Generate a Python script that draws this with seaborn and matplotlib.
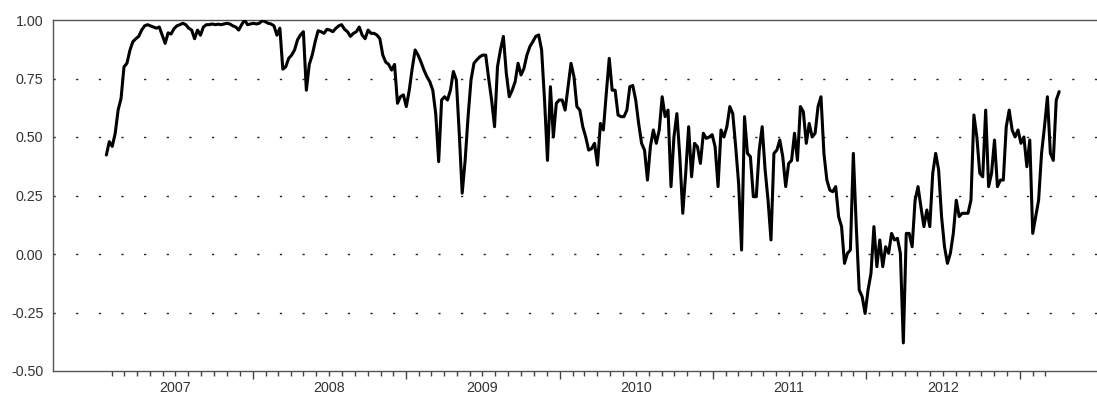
import numpy as np
import pandas as pd
import matplotlib
matplotlib.use("Agg")
import matplotlib.pyplot as plt
import matplotlib.dates as mdates
from matplotlib.ticker import FuncFormatter, FixedLocator
import seaborn as sns

# Weekly rolling correlation, starting mid-January 2007
start_date = "2007-01-18"
corr_2007 = [
    0.423, 0.48, 0.46, 0.515, 0.615, 0.665, 0.80, 0.815, 0.87, 0.907,
    0.92, 0.93, 0.957, 0.975, 0.98, 0.975, 0.97, 0.965, 0.97, 0.935,
    0.90, 0.945, 0.94, 0.963, 0.975, 0.98, 0.986, 0.98, 0.965, 0.957,
    0.92, 0.957, 0.935, 0.97, 0.98, 0.98, 0.983, 0.98, 0.982, 0.98,
    0.983, 0.986, 0.983, 0.975, 0.97, 0.957, 0.98, 1.0, 0.98, 0.983,
]
corr_2008 = [
    0.986, 0.983, 0.986, 0.997, 0.993, 0.986, 0.983, 0.975, 0.935, 0.965,
    0.79, 0.80, 0.836, 0.85, 0.872, 0.915, 0.936, 0.95, 0.70, 0.81,
    0.85, 0.907, 0.954, 0.95, 0.943, 0.96, 0.957, 0.95, 0.964, 0.975,
    0.98, 0.96, 0.95, 0.93, 0.943, 0.95, 0.97, 0.935, 0.92, 0.957,
    0.943, 0.943, 0.936, 0.92, 0.85, 0.82, 0.81, 0.786, 0.81, 0.644,
]
corr_2009 = [
    0.672, 0.68, 0.63, 0.70, 0.793, 0.872, 0.85, 0.82, 0.786, 0.758,
    0.736, 0.70, 0.60, 0.395, 0.658, 0.672, 0.658, 0.70, 0.78, 0.744,
    0.516, 0.26, 0.40, 0.587, 0.744, 0.815, 0.83, 0.843, 0.85, 0.85,
    0.75, 0.658, 0.544, 0.80, 0.872, 0.93, 0.772, 0.672, 0.70, 0.736,
    0.815, 0.765, 0.793, 0.85, 0.886, 0.907, 0.93, 0.936, 0.872, 0.658,
]
corr_2010 = [
    0.40, 0.715, 0.50, 0.644, 0.658, 0.658, 0.615, 0.715, 0.815, 0.758,
    0.63, 0.615, 0.544, 0.50, 0.444, 0.45, 0.473, 0.38, 0.558, 0.53,
    0.687, 0.836, 0.70, 0.70, 0.594, 0.587, 0.587, 0.615, 0.715, 0.72,
    0.658, 0.558, 0.473, 0.444, 0.316, 0.46, 0.53, 0.473, 0.53, 0.672,
    0.587, 0.615, 0.288, 0.50, 0.60, 0.416, 0.174, 0.345, 0.544, 0.33,
]
corr_2011 = [
    0.473, 0.458, 0.387, 0.516, 0.494, 0.50, 0.51, 0.458, 0.288, 0.53,
    0.50, 0.544, 0.63, 0.60, 0.458, 0.30, 0.017, 0.587, 0.43, 0.416,
    0.245, 0.245, 0.444, 0.544, 0.36, 0.23, 0.06, 0.43, 0.444, 0.487,
    0.416, 0.288, 0.387, 0.40, 0.516, 0.40, 0.63, 0.608, 0.473, 0.558,
    0.50, 0.516, 0.63, 0.672, 0.43, 0.316, 0.273, 0.266, 0.288, 0.16,
]
corr_2012 = [
    0.117, -0.04, 0.003, 0.017, 0.43, 0.117, -0.154, -0.182, -0.254, -0.154,
    -0.083, 0.117, -0.054, 0.06, -0.054, 0.031, 0.003, 0.088, 0.06, 0.067,
    0.003, -0.38, 0.088, 0.088, 0.031, 0.23, 0.288, 0.20, 0.117, 0.188,
    0.117, 0.345, 0.43, 0.36, 0.16, 0.031, -0.04, 0.003, 0.088, 0.23,
    0.16, 0.174, 0.174, 0.174, 0.23, 0.594, 0.50, 0.345, 0.33, 0.615,
]
corr_2013 = [
    0.288, 0.345, 0.487, 0.288, 0.316, 0.316, 0.544, 0.615, 0.53, 0.50,
    0.53, 0.473, 0.50, 0.373, 0.487, 0.088, 0.16, 0.23, 0.43, 0.544,
    0.672, 0.43, 0.40, 0.658, 0.694,
]
corr = corr_2007 + corr_2008 + corr_2009 + corr_2010 + corr_2011 + corr_2012 + corr_2013
dates = pd.date_range(start_date, periods=len(corr), freq="7D")
df = pd.DataFrame({"date": dates, "corr": corr})

year_labels = [2007, 2008, 2009, 2010, 2011, 2012]
y_ticks = [-0.50, -0.25, 0.00, 0.25, 0.50, 0.75, 1.00]
grid_levels = [-0.25, 0.00, 0.25, 0.50, 0.75]

sns.set_style("white")
plt.rcParams["font.family"] = ["Liberation Sans", "DejaVu Sans"]

fig = plt.figure(figsize=(10.97, 3.96), dpi=100)
ax = fig.add_axes([53 / 1097, 1 - 371 / 396, 1 - 53 / 1097, (371 - 20) / 396])

# sparse dotted reference lines
for lvl in grid_levels:
    ax.axhline(lvl, color="#222222", lw=1.0, linestyle=(0, (1.6, 14.7)), zorder=1)

sns.lineplot(data=df, x="date", y="corr", ax=ax, color="black", lw=2.2, zorder=3)

ax.set_xlim(pd.Timestamp("2006-09-13"), pd.Timestamp("2013-07-03"))
ax.set_ylim(-0.5, 1.0)
ax.set_xlabel("")
ax.set_ylabel("")

# y axis
ax.set_yticks(y_ticks)
ax.yaxis.set_major_formatter(FuncFormatter(lambda v, p: f"{v:.2f}"))
ax.tick_params(axis="y", length=0, pad=7, labelsize=10.3, labelcolor="#333333")

# x axis: long ticks at year starts, short monthly ticks, year labels mid-year
year_starts = [mdates.date2num(pd.Timestamp(f"{y}-01-01")) for y in range(2008, 2014)]
months = pd.date_range("2007-02-01", "2013-03-01", freq="MS")
month_ticks = [mdates.date2num(m) for m in months if m.month != 1]
ax.xaxis.set_major_locator(FixedLocator(year_starts))
ax.xaxis.set_minor_locator(FixedLocator(month_ticks))
ax.xaxis.set_major_formatter(FuncFormatter(lambda v, p: ""))

def _mid_year_label(v, p):
    d = mdates.num2date(v)
    return str(d.year) if (d.month == 7 and d.year in year_labels) else ""

ax.xaxis.set_minor_formatter(FuncFormatter(_mid_year_label))
ax.tick_params(axis="x", which="major", length=6, width=1, color="#444444", direction="out")
ax.tick_params(axis="x", which="minor", length=3.3, width=1, color="#444444",
               direction="out", pad=4, labelsize=10.3, labelcolor="#333333")
ax.tick_params(axis="x", which="both", bottom=True)

for side in ["left", "top", "bottom"]:
    ax.spines[side].set_visible(True)
    ax.spines[side].set_color("#555555")
    ax.spines[side].set_linewidth(1.0)
ax.spines["right"].set_visible(False)

fig.savefig("out.png", dpi=100, facecolor="white")
